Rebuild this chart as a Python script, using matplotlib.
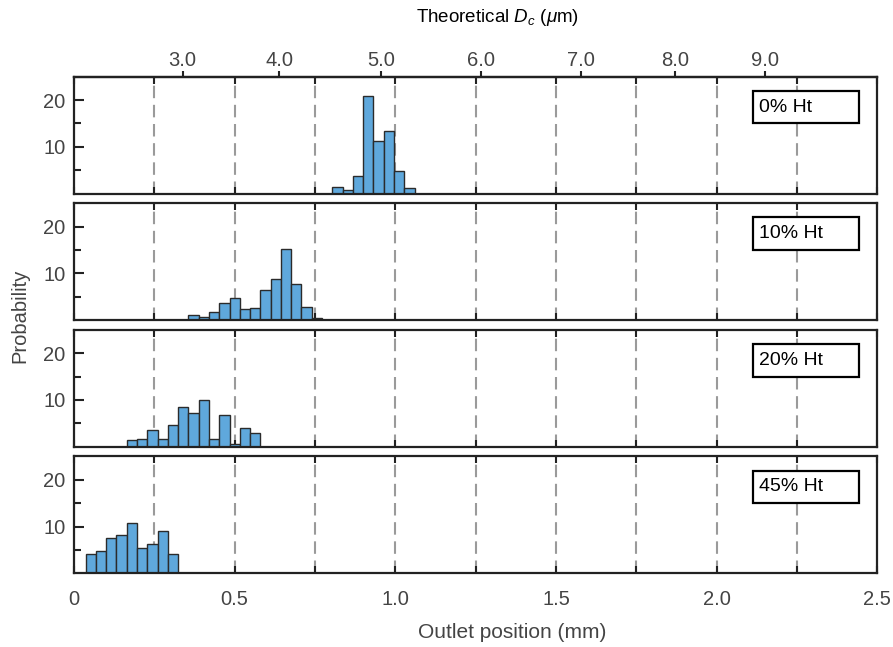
import matplotlib
matplotlib.use("Agg")
import matplotlib.pyplot as plt
from matplotlib.patches import Rectangle
import numpy as np

plt.rcParams['font.family'] = ['Liberation Sans', 'DejaVu Sans']
plt.rcParams['mathtext.fontset'] = 'custom'
plt.rcParams['mathtext.rm'] = 'Liberation Sans'
plt.rcParams['mathtext.it'] = 'Liberation Sans:italic'

# ---- data ----
panel_labels = ["0% Ht", "10% Ht", "20% Ht", "45% Ht"]
bin_width = 0.032
bin_start = [0.804, 0.356, 0.164, 0.036]
counts_0 = [1.3, 0.8, 3.8, 20.8, 11.3, 13.3, 4.8, 1.1]
counts_10 = [1.0, 0.6, 1.7, 3.7, 4.8, 2.3, 2.55, 6.5, 8.7, 15.3, 7.7, 2.9, 0.4]
counts_20 = [1.5, 1.75, 3.5, 1.6, 4.65, 8.6, 7.2, 10.0, 1.6, 6.85, 0.6, 4.0, 3.0]
counts_45 = [4.1, 4.7, 7.6, 8.3, 10.8, 5.4, 6.25, 9.1, 4.1]
all_counts = [counts_0, counts_10, counts_20, counts_45]

guide_positions = [0.25, 0.5, 0.75, 1.0, 1.25, 1.5, 1.75, 2.0, 2.25]
bottom_ticks = [0, 0.5, 1.0, 1.5, 2.0, 2.5]
bottom_tick_labels = ["0", "0.5", "1.0", "1.5", "2.0", "2.5"]
dc_positions = [0.338, 0.639, 0.956, 1.267, 1.578, 1.871, 2.149]
dc_labels = ["3.0", "4.0", "5.0", "6.0", "7.0", "8.0", "9.0"]
y_ticks = [5, 10, 15, 20]
y_tick_labels = ["", "10", "", "20"]

bar_color = "#5fa8dc"
edge_color = "#2b2b2b"
tick_grey = "#444444"

fig = plt.figure(figsize=(8.93, 6.47), dpi=100)
W, H = 893, 647
left_px, right_px = 74, 877.3
top_px = 76.7
pitch = 126.6
height_px = 116.8

axes = []
for i in range(4):
    t = top_px + i * pitch
    ax = fig.add_axes([left_px / W, 1 - (t + height_px) / H,
                       (right_px - left_px) / W, height_px / H])
    axes.append(ax)

for i, ax in enumerate(axes):
    counts = all_counts[i]
    edges = bin_start[i] + bin_width * np.arange(len(counts))
    for g in guide_positions:
        ax.axvline(g, color="#9a9a9a", lw=1.5, dashes=(6, 3.2), zorder=1)
    ax.bar(edges, counts, width=bin_width, align="edge", color=bar_color,
           edgecolor=edge_color, linewidth=1.0, zorder=2)
    ax.set_xlim(0, 2.5)
    ax.set_ylim(0, 25)
    ax.set_yticks(y_ticks)
    ax.set_yticklabels(y_tick_labels)
    ax.set_xticks(np.arange(0, 2.51, 0.25))
    if i == 3:
        lbls = []
        for v in np.arange(0, 2.51, 0.25):
            s = ""
            for bt, bl in zip(bottom_ticks, bottom_tick_labels):
                if abs(bt - v) < 1e-6:
                    s = bl
            lbls.append(s)
        ax.set_xticklabels(lbls)
    else:
        ax.set_xticklabels([])
    ax.tick_params(axis="x", direction="in", top=True, bottom=True, length=5,
                   width=1.5, color="#222222", labelsize=14.5, labelcolor=tick_grey, pad=12)
    ax.tick_params(axis="y", direction="in", length=7, width=1.5, color="#222222",
                   labelsize=14.5, labelcolor=tick_grey, pad=6)
    for yt, tl in zip(ax.yaxis.get_major_ticks(), y_tick_labels):
        if tl == "":
            yt.tick1line.set_markersize(4.8)
    for sp in ax.spines.values():
        sp.set_linewidth(1.6)
        sp.set_color("#222222")
    ax.add_patch(Rectangle((0.845, 0.60), 0.132, 0.28, transform=ax.transAxes,
                           facecolor="white", edgecolor="black", lw=1.6, zorder=5))
    ax.text(0.853, 0.74, panel_labels[i], transform=ax.transAxes, fontsize=14,
            ha="left", va="center", zorder=6, color="black")

# top secondary axis
sec = axes[0].secondary_xaxis("top")
sec.set_xticks(dc_positions)
sec.set_xticklabels(dc_labels)
sec.tick_params(axis="x", direction="out", length=4, width=1.5, color="#222222",
                labelsize=14.5, labelcolor=tick_grey, pad=1)
sec.spines["top"].set_linewidth(1.6)

fig.text(498 / W, 1 - 18 / H, r"Theoretical $D_c$ ($\mu$m)", fontsize=13.5,
         ha="center", va="center", color="black")
fig.text(512 / W, 1 - 632 / H, "Outlet position (mm)", fontsize=15,
         ha="center", va="center", color=tick_grey)
fig.text(20 / W, 1 - 316 / H, "Probability", fontsize=14.5, rotation=90,
         ha="center", va="center", color=tick_grey)

fig.savefig("out.png", dpi=100)
